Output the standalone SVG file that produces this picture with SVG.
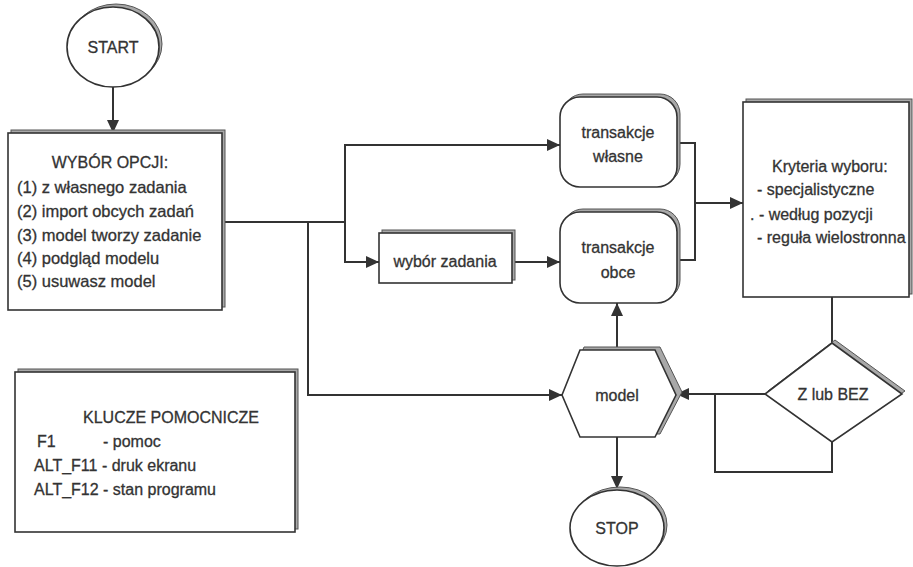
<svg xmlns="http://www.w3.org/2000/svg" width="913" height="567" viewBox="0 0 913 567">
  <style>
    .shape { fill: #ffffff; stroke: #333333; stroke-width: 1.6; }
    .depth { fill: #a8a8a8; stroke: #555555; stroke-width: 1; }
    .link { fill: none; stroke: #333333; stroke-width: 2; }
    text { font-family: "Liberation Sans", Arial, sans-serif; font-size: 16px; fill: #333333; stroke: #333333; stroke-width: 0.3; }
    .mid { text-anchor: middle; }
  </style>
  <defs>
    <marker id="head" markerUnits="userSpaceOnUse" markerWidth="14" markerHeight="12" refX="13" refY="6" orient="auto">
      <path d="M0,0 L13,6 L0,12 z" fill="#333333"/>
    </marker>
  </defs>

  <rect width="913" height="567" fill="#ffffff"/>

  <!-- connectors -->
  <g id="connectors">
    <path class="link" d="M113,87 V133" marker-end="url(#head)"/>
    <path class="link" d="M222,222 H345 V145 H560" marker-end="url(#head)"/>
    <path class="link" d="M345,222 V262 H379" marker-end="url(#head)"/>
    <path class="link" d="M308,222 V395 H562" marker-end="url(#head)"/>
    <path class="link" d="M512,262 H560" marker-end="url(#head)"/>
    <path class="link" d="M677,143 H695 V260 H677"/>
    <path class="link" d="M695,203 H743" marker-end="url(#head)"/>
    <path class="link" d="M832,297 V343"/>
    <path class="link" d="M765,394 H676" marker-end="url(#head)"/>
    <path class="link" d="M832,442 V472 H715 V394"/>
    <path class="link" d="M617,350 V303" marker-end="url(#head)"/>
    <path class="link" d="M617,437 V489" marker-end="url(#head)"/>
  </g>

  <!-- start terminal -->
  <g id="start">
    <ellipse class="depth" cx="116" cy="44" rx="46" ry="40"/>
    <ellipse class="shape" cx="113" cy="47" rx="46" ry="40"/>
    <text class="mid" x="113" y="53">START</text>
  </g>

  <!-- option menu -->
  <g id="wybor-opcji">
    <rect class="depth" x="11" y="130" width="214" height="177"/>
    <rect class="shape" x="8" y="133" width="214" height="177"/>
    <text class="mid" x="110" y="168">WYBÓR OPCJI:</text>
    <text x="17" y="193" style="font-size:16.5px">(1) z własnego zadania</text>
    <text x="17" y="217" style="font-size:16.5px">(2) import obcych zadań</text>
    <text x="17" y="241" style="font-size:16.5px">(3) model tworzy zadanie</text>
    <text x="17" y="264" style="font-size:16.5px">(4) podgląd modelu</text>
    <text x="17" y="287" style="font-size:16.5px">(5) usuwasz model</text>
  </g>

  <!-- task selection -->
  <g id="wybor-zadania">
    <rect class="depth" x="382" y="230" width="133" height="50"/>
    <rect class="shape" x="379" y="233" width="133" height="50"/>
    <text class="mid" x="445" y="267">wybór zadania</text>
  </g>

  <!-- own transactions -->
  <g id="transakcje-wlasne">
    <rect class="depth" x="563" y="94" width="117" height="90" rx="20"/>
    <rect class="shape" x="560" y="97" width="117" height="90" rx="20"/>
    <text class="mid" x="618" y="138">transakcje</text>
    <text class="mid" x="618" y="162">własne</text>
  </g>

  <!-- foreign transactions -->
  <g id="transakcje-obce">
    <rect class="depth" x="563" y="209" width="117" height="91" rx="20"/>
    <rect class="shape" x="560" y="212" width="117" height="91" rx="20"/>
    <text class="mid" x="618" y="253">transakcje</text>
    <text class="mid" x="618" y="278">obce</text>
  </g>

  <!-- selection criteria -->
  <g id="kryteria">
    <rect class="depth" x="746" y="99" width="166" height="195"/>
    <rect class="shape" x="743" y="102" width="166" height="195"/>
    <text x="772" y="172">Kryteria wyboru:</text>
    <text x="757" y="195">- specjalistyczne</text>
    <text x="750" y="220">. - według pozycji</text>
    <text x="757" y="243">- reguła wielostronna</text>
  </g>

  <!-- decision -->
  <g id="z-lub-bez">
    <polygon class="depth" points="835,340 905,391 835,439 768,391"/>
    <polygon class="shape" points="832,343 902,394 832,442 765,394"/>
    <text class="mid" x="833" y="400">Z lub BEZ</text>
  </g>

  <!-- model -->
  <g id="model">
    <polygon class="depth" points="566,392 584,347 660,347 682,392 660,434 584,434"/>
    <polygon class="shape" points="562,395 580,350 655,350 676,395 655,437 580,437"/>
    <text class="mid" x="617" y="401">model</text>
  </g>

  <!-- stop terminal -->
  <g id="stop">
    <ellipse class="depth" cx="620" cy="525" rx="47" ry="38"/>
    <ellipse class="shape" cx="617" cy="528" rx="47" ry="38"/>
    <text class="mid" x="617" y="534">STOP</text>
  </g>

  <!-- helper keys -->
  <g id="klucze">
    <rect class="depth" x="18" y="369" width="280" height="160"/>
    <rect class="shape" x="15" y="372" width="280" height="160"/>
    <text x="83" y="423">KLUCZE POMOCNICZE</text>
    <text x="37" y="447">F1</text>
    <text x="103" y="447">- pomoc</text>
    <text x="34" y="471">ALT_F11 - druk ekranu</text>
    <text x="34" y="495">ALT_F12 - stan programu</text>
  </g>
</svg>
